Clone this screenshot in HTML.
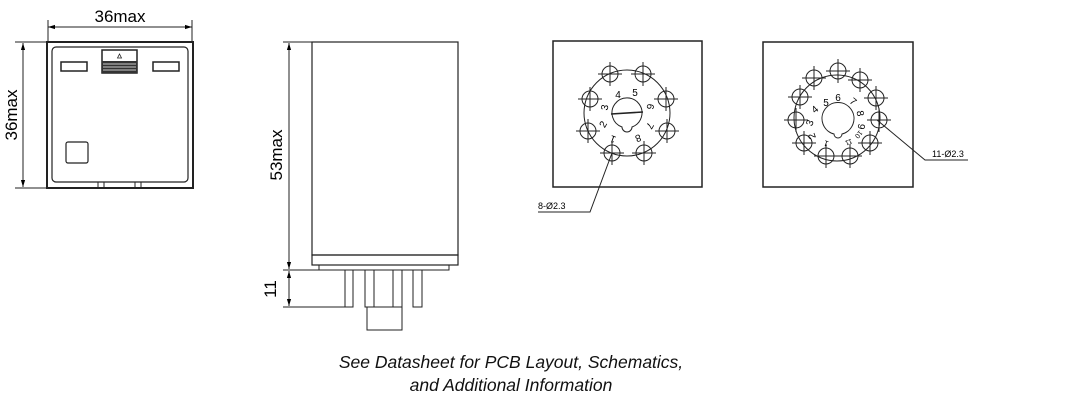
<!DOCTYPE html>
<html><head><meta charset="utf-8"><style>
html,body{margin:0;padding:0;background:#fff;}
svg{display:block;}
</style></head><body>
<svg width="1080" height="400" viewBox="0 0 1080 400" xmlns="http://www.w3.org/2000/svg" font-family="Liberation Sans, Arial, sans-serif">
<defs>
<marker id="a" viewBox="0 0 10 10" refX="10" refY="5" markerWidth="7" markerHeight="7" orient="auto-start-reverse"><path d="M0,2 L10,5 L0,8 z" fill="#000"/></marker>
<g id="pin"><circle r="8" fill="none" stroke="#222" stroke-width="1"/><line x1="-12" y1="0" x2="12" y2="0" stroke="#222" stroke-width="1"/><line x1="0" y1="-12" x2="0" y2="12" stroke="#222" stroke-width="1"/></g>
</defs>
<!-- Front view -->
<g stroke="#222" fill="none">
<rect x="47" y="42" width="146" height="146" stroke-width="2"/>
<rect x="52" y="47" width="136" height="135" rx="4" stroke-width="1.2"/>
<line x1="48" y1="27" x2="192" y2="27" marker-start="url(#a)" marker-end="url(#a)"/>
<line x1="48" y1="20" x2="48" y2="42"/><line x1="192" y1="20" x2="192" y2="42"/>
<line x1="23" y1="43" x2="23" y2="187" marker-start="url(#a)" marker-end="url(#a)"/>
<line x1="15" y1="42" x2="47" y2="42"/><line x1="15" y1="188" x2="47" y2="188"/>
<rect x="61" y="62" width="26" height="9" stroke-width="1.5"/>
<rect x="153" y="62" width="26" height="9" stroke-width="1.5"/>
<rect x="66" y="142" width="22" height="21" rx="2" stroke-width="1.2"/>
<line x1="98" y1="182" x2="98" y2="188"/><line x1="104" y1="182" x2="104" y2="188"/>
<line x1="135" y1="182" x2="135" y2="188"/><line x1="141" y1="182" x2="141" y2="188"/>
</g>
<rect x="102" y="50" width="35" height="23" fill="#fff" stroke="#222" stroke-width="1.5"/>
<rect x="102" y="61" width="35" height="12" fill="#333"/>
<g stroke="#fff" stroke-width="0.8"><line x1="103" y1="64" x2="136" y2="64"/><line x1="103" y1="67" x2="136" y2="67"/><line x1="103" y1="70" x2="136" y2="70"/></g>
<path d="M119.5,54 L117.5,58 L121.5,58 z" fill="none" stroke="#222" stroke-width="0.8"/>
<text x="120" y="22" font-size="17" text-anchor="middle">36max</text>
<text transform="translate(17,115) rotate(-90)" font-size="17" text-anchor="middle">36max</text>
<!-- Side view -->
<g stroke="#222" fill="none">
<rect x="312" y="42" width="146" height="213" stroke-width="1.2"/>
<rect x="312" y="255" width="146" height="10" stroke-width="1.2"/>
<rect x="319" y="265" width="130" height="5"/>
<line x1="289" y1="43" x2="289" y2="269" marker-start="url(#a)" marker-end="url(#a)"/>
<line x1="289" y1="271" x2="289" y2="306" marker-start="url(#a)" marker-end="url(#a)"/>
<line x1="283" y1="42" x2="312" y2="42"/>
<line x1="283" y1="270" x2="330" y2="270"/>
<line x1="283" y1="307" x2="345" y2="307"/>
<rect x="345" y="270" width="8" height="37"/>
<rect x="365" y="270" width="9" height="37"/>
<rect x="393" y="270" width="9" height="37"/>
<rect x="413" y="270" width="9" height="37"/>
<rect x="367" y="307" width="35" height="23"/>
</g>
<text transform="translate(282,155) rotate(-90)" font-size="17" text-anchor="middle">53max</text>
<text transform="translate(276,289) rotate(-90)" font-size="17" text-anchor="middle">11</text>
<!-- 8 pin -->
<g stroke="#222" fill="none">
<rect x="553" y="41" width="149" height="146" stroke-width="1.5"/>
<circle cx="627" cy="113" r="43"/>
<path d="M622,127 A15,15 0 1 1 632,127 A4,4 0 0 1 622,127 z"/>
<line x1="611" y1="114" x2="643" y2="112" stroke-width="1.5"/>
<polyline points="612,153 590,212 538,212"/>
</g>
<use href="#pin" x="610" y="74"/><use href="#pin" x="643" y="74"/>
<use href="#pin" x="590" y="99"/><use href="#pin" x="666" y="99"/>
<use href="#pin" x="588" y="131"/><use href="#pin" x="667" y="131"/>
<use href="#pin" x="612" y="153"/><use href="#pin" x="644" y="153"/>
<g font-size="10" text-anchor="middle">
<text x="618" y="98">4</text><text x="635" y="96">5</text>
<text transform="translate(608,108) rotate(-80)">3</text>
<text transform="translate(647,106) rotate(100)">6</text>
<text transform="translate(606,126) rotate(-60)">2</text>
<text transform="translate(647,124) rotate(120)">7</text>
<text transform="translate(614,136) rotate(200)">1</text>
<text transform="translate(637,135) rotate(160)">8</text>
</g>
<text x="538" y="209" font-size="9">8-Ø2.3</text>
<!-- 11 pin -->
<g stroke="#222" fill="none">
<rect x="763" y="42" width="150" height="145" stroke-width="1.5"/>
<circle cx="837" cy="118" r="43"/>
<path d="M834,134 A16,16 0 1 1 842,134 A4,4 0 0 1 834,134 z"/>
<polyline points="877,120 925,160 968,160"/>
</g>
<use href="#pin" x="814" y="78"/><use href="#pin" x="838" y="71"/><use href="#pin" x="860" y="80"/>
<use href="#pin" x="876" y="98"/><use href="#pin" x="879" y="120"/><use href="#pin" x="870" y="143"/>
<use href="#pin" x="850" y="156"/><use href="#pin" x="826" y="156"/><use href="#pin" x="804" y="143"/>
<use href="#pin" x="796" y="120"/><use href="#pin" x="800" y="97"/>
<g font-size="10" text-anchor="middle">
<text x="826" y="106">5</text><text x="838" y="101">6</text>
<text transform="translate(851,104) rotate(40)">7</text>
<text transform="translate(857,114) rotate(80)">8</text>
<text transform="translate(858,126) rotate(100)">9</text>
<text transform="translate(817,112) rotate(-40)">4</text>
<text transform="translate(813,124) rotate(-70)">3</text>
<text transform="translate(815,135) rotate(-110)">2</text>
<text transform="translate(827,141) rotate(200)" font-size="8">1</text>
<text transform="translate(848,140) rotate(160)" font-size="7">11</text>
<text transform="translate(857,133) rotate(130)" font-size="7">10</text>
</g>
<text x="932" y="157" font-size="9">11-Ø2.3</text>
<!-- caption -->
<g font-size="17.5" font-style="italic" text-anchor="middle" fill="#111">
<text x="511" y="368">See Datasheet for PCB Layout, Schematics,</text>
<text x="511" y="391">and Additional Information</text>
</g>
</svg>
</body></html>
